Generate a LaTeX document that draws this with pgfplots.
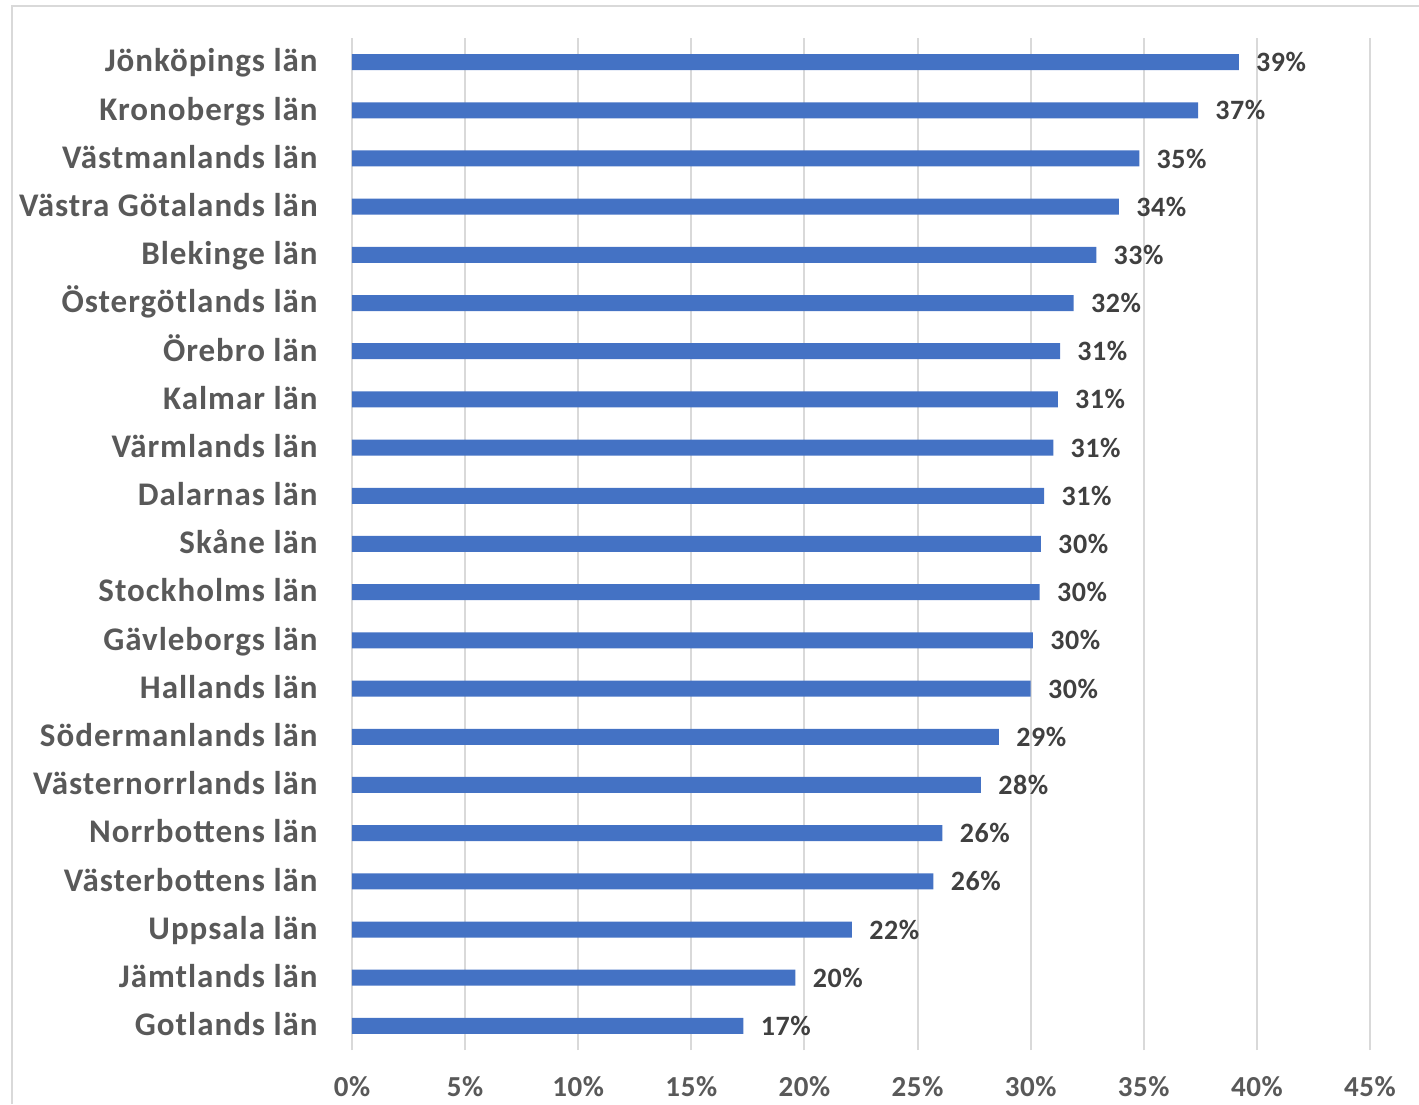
\documentclass[border=0pt]{standalone}
\usepackage{pgfplots}
\pgfplotsset{compat=1.18}
\usepackage{fontspec}
\setmainfont{Carlito}[LetterSpace=2]
\definecolor{barblue}{HTML}{4472C4}
\definecolor{gridgray}{HTML}{D9D9D9}
\definecolor{labgray}{HTML}{595959}
\definecolor{datagray}{HTML}{404040}
\begin{document}
\begin{tikzpicture}
\useasboundingbox (0,0) rectangle (709.5pt,552pt);
\draw[gridgray, line width=1pt] (6pt,0) -- (6pt,549pt) -- (709.5pt,549pt);
\begin{axis}[
    at={(176pt,27pt)}, anchor=south west,
    scale only axis, width=509pt, height=506pt,
    xbar, bar width=8pt,
    xmin=0, xmax=45, ymin=-0.5, ymax=20.5,
    axis line style={draw=none},
    major tick length=0pt,
    xtick={0,5,...,45},
    xticklabel={\pgfmathprintnumber{\tick}\%},
    xmajorgrids, grid style={gridgray, line width=1pt},
    xticklabel style={anchor=center, yshift=-18.5pt, text=labgray, font=\bfseries\fontsize{14.5}{16}\selectfont},
    ytick={0,...,20},
    yticklabels={Gotlands län, Jämtlands län, Uppsala län, Västerbottens län, Norrbottens län,
      Västernorrlands län, Södermanlands län, Hallands län, Gävleborgs län, Stockholms län,
      Skåne län, Dalarnas län, Värmlands län, Kalmar län, Örebro län, Östergötlands län,
      Blekinge län, Västra Götalands län, Västmanlands län, Kronobergs län, Jönköpings län},
    yticklabel style={anchor=mid east, inner sep=0pt, xshift=-17pt, yshift=-2.5pt, text=labgray,
      font=\bfseries\fontsize{16.5}{19}\selectfont\addfontfeatures{LetterSpace=3}},
    /pgf/number format/assume math mode=true,
    nodes near coords={\pgfmathprintnumber[fixed,precision=0]{\pgfplotspointmeta}\%},
    point meta=x,
    nodes near coords style={anchor=west, inner sep=0pt, xshift=8.5pt, text=datagray, font=\bfseries\fontsize{14}{17}\selectfont},
]
\addplot[fill=barblue, draw=none] coordinates {
  (17.3,0) (19.6,1) (22.1,2) (25.7,3) (26.1,4) (27.8,5) (28.6,6) (30.0,7) (30.1,8) (30.4,9)
  (30.45,10) (30.6,11) (31.0,12) (31.2,13) (31.3,14) (31.9,15) (32.9,16) (33.9,17) (34.8,18)
  (37.4,19) (39.2,20)
};
\end{axis}
\end{tikzpicture}
\end{document}
